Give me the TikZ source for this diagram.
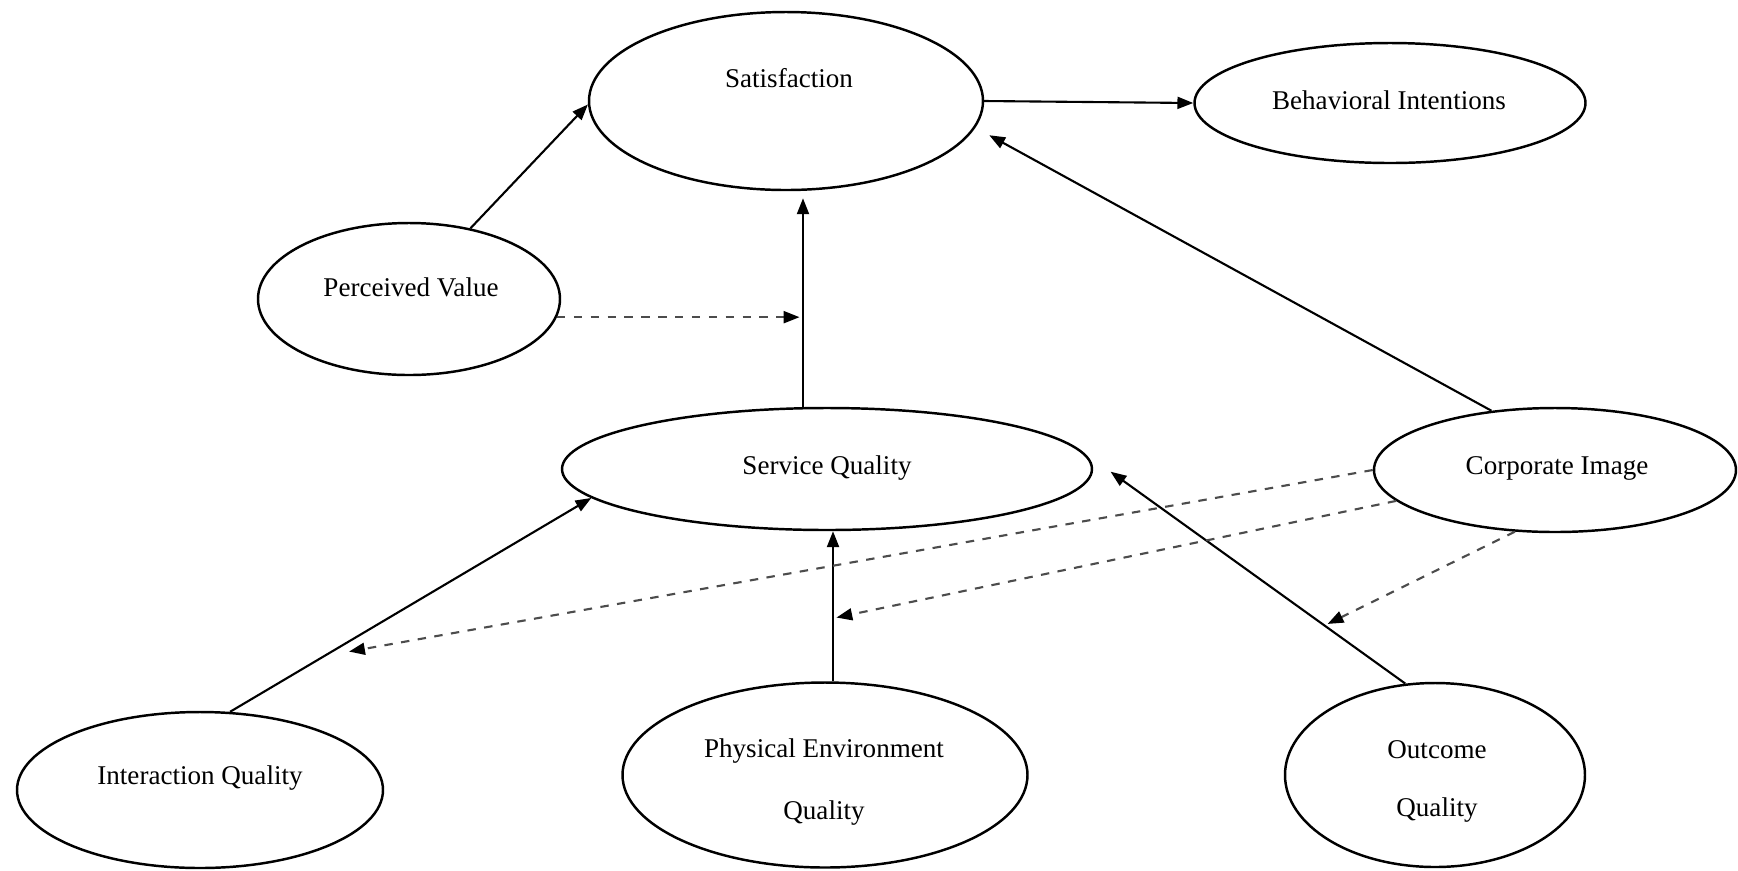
\documentclass[tikz,border=0pt]{standalone}
\usepackage{fontspec}
\setmainfont{Liberation Serif}
\usetikzlibrary{shapes.geometric,arrows.meta}
\colorlet{dashgray}{black!70}

\begin{document}
\begin{tikzpicture}[x=0.1mm,y=-0.1mm,
    factor/.style={ellipse,draw,line width=0.7pt,inner sep=0pt},
    txt/.style={font=\fontsize{7.7pt}{9pt}\selectfont,inner sep=0pt,align=center},
    effect/.style={-{Triangle[length=4.5pt,width=3.4pt]},line width=0.6pt},
    moderate/.style={-{Triangle[length=4.5pt,width=3.4pt,color=black]},line width=0.6pt,
      dash pattern=on 2.4pt off 2.4pt,draw=dashgray,shorten >=1pt}]

      \useasboundingbox (0,0) rectangle (1738,870);

      \node[factor,minimum width=39.4mm,minimum height=17.8mm] (sat) at (786,101) {};
      \node[txt] (sattxt) at (789,78) {Satisfaction};

      \node[factor,minimum width=39.1mm,minimum height=12mm] (bi) at (1390,103) {};
      \node[txt] (bitxt) at (1389,100) {Behavioral Intentions};

      \node[factor,minimum width=30.2mm,minimum height=15.2mm] (pv) at (409,299) {};
      \node[txt] (pvtxt) at (411,287) {Perceived Value};

      \node[factor,minimum width=53mm,minimum height=12.2mm] (sq) at (827,469) {};
      \node[txt] (sqtxt) at (827,468) {Service Quality};

      \node[factor,minimum width=36.2mm,minimum height=12.4mm] (ci) at (1555,470) {};
      \node[txt] (citxt) at (1557,468) {Corporate Image};

      \node[factor,minimum width=36.6mm,minimum height=15.6mm] (iq) at (200,790) {};
      \node[txt] (iqtxt) at (200,778) {Interaction Quality};

      \node[factor,minimum width=40.5mm,minimum height=18.5mm] (pe) at (825,775) {};
      \node[txt] (petxt) at (824,782) {Physical Environment\\[8.4pt]Quality};

      \node[factor,minimum width=30mm,minimum height=18.4mm] (oq) at (1435,775) {};
      \node[txt] (oqtxt) at (1437,781) {Outcome\\[7.5pt]Quality};

      \coordinate (sataxis) at (803,0);
      \coordinate (peaxis) at (833,0);

      \draw[effect] (sat.east) -- (bi.west);
      \draw[effect] (pv.49) -- (sat.181);
      \draw[effect,shorten >=2pt] (sq.north -| sataxis) -- (sat.south -| sataxis);
      \draw[effect,shorten >=4.5pt] (ci.137) -- (sat.-8);

      \draw[effect] (iq.69) -- (sq.187) coordinate[pos=0.32] (iqmid);
      \draw[effect] (pe.north -| peaxis) -- (sq.south -| peaxis) coordinate[pos=0.42] (pemid);
      \draw[effect,shorten >=10pt] (oq.108) -- (sq.4) coordinate[pos=0.25] (oqmid);

      \draw[moderate] (pv.-7) -- (pv.-7 -| sataxis);
      \draw[moderate] (ci.west) -- ([yshift=-2.5pt]iqmid);
      \draw[moderate] (ci.191) -- (pemid);
      \draw[moderate] (ci.237) -- (oqmid);

\end{tikzpicture}
\end{document}
